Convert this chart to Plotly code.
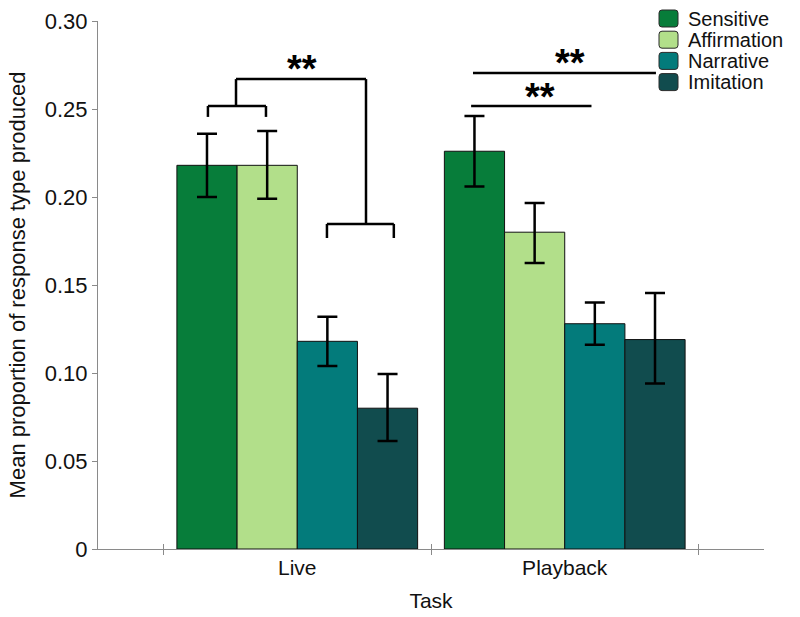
import plotly.graph_objects as go

tasks = ["Live", "Playback"]
task_pos = [0, 1]
series = ["Sensitive", "Affirmation", "Narrative", "Imitation"]
colors = ["#077d3a", "#b2df8a", "#037b7b", "#114c4e"]

sensitive = [0.218, 0.226]
affirmation = [0.218, 0.180]
narrative = [0.118, 0.128]
imitation = [0.080, 0.119]

sensitive_err_up = [0.018, 0.020]
sensitive_err_dn = [0.018, 0.020]
affirmation_err_up = [0.0195, 0.0166]
affirmation_err_dn = [0.019, 0.0175]
narrative_err_up = [0.014, 0.012]
narrative_err_dn = [0.014, 0.012]
imitation_err_up = [0.0194, 0.0265]
imitation_err_dn = [0.0186, 0.025]

values = [sensitive, affirmation, narrative, imitation]
err_up = [sensitive_err_up, affirmation_err_up, narrative_err_up, imitation_err_up]
err_dn = [sensitive_err_dn, affirmation_err_dn, narrative_err_dn, imitation_err_dn]

y_ticks = [0, 0.05, 0.10, 0.15, 0.20, 0.25, 0.30]
y_ticktext = ["0", "0.05", "0.10", "0.15", "0.20", "0.25", "0.30"]

FONT = "Liberation Sans, Arial, Helvetica, sans-serif"

fig = go.Figure()
for name, vals, up, dn, col in zip(series, values, err_up, err_dn, colors):
    fig.add_trace(go.Bar(
        x=task_pos, y=vals, name=name,
        marker=dict(color=col, line=dict(color="#111111", width=1)),
        error_y=dict(type="data", array=up, arrayminus=dn, symmetric=False,
                     color="black", thickness=2.5, width=10),
        showlegend=False,
    ))

# invisible trace on overlay axis for crossing boundary ticks
fig.add_trace(go.Scatter(x=[-0.5, 1.5], y=[0, 0], xaxis="x2", mode="markers",
                         marker=dict(opacity=0), showlegend=False, hoverinfo="skip"))

xr = [-0.745, 1.745]
fig.update_layout(
    width=800, height=617,
    paper_bgcolor="white", plot_bgcolor="white",
    margin=dict(l=98, r=36, t=21, b=68),
    barmode="group", bargap=0.1, bargroupgap=0,
    font=dict(family=FONT, size=21, color="#111111"),
    xaxis=dict(
        range=xr, tickvals=task_pos, ticktext=tasks, ticks="",
        showline=True, linecolor="#8a8a8a", linewidth=1.2,
        showgrid=False, zeroline=False, automargin=False,
        tickfont=dict(size=21),
        minor=dict(tick0=0.5, dtick=1, ticks="outside", ticklen=5,
                   tickcolor="#8a8a8a", tickwidth=1.2, showgrid=False),
        title=dict(text="Task", font=dict(size=21)),
    ),
    xaxis2=dict(
        range=xr, overlaying="x", anchor="y", side="bottom",
        tickvals=[-0.5, 0.5, 1.5], ticks="inside", ticklen=5,
        tickcolor="#8a8a8a", tickwidth=1.2, automargin=False,
        showticklabels=False, showgrid=False, zeroline=False, showline=False,
    ),
    yaxis=dict(
        range=[0, 0.30], tickvals=y_ticks, ticktext=y_ticktext,
        ticks="outside", ticklen=5, tickcolor="#8a8a8a", tickwidth=1.2,
        showline=True, linecolor="#8a8a8a", linewidth=1.2,
        showgrid=False, zeroline=False, automargin=False,
        tickfont=dict(size=22),
        title=dict(text="Mean proportion of response type produced",
                   font=dict(size=22), standoff=12),
    ),
)

# significance brackets (data coordinates)
L = dict(color="black", width=2.5)
segs = [
    # Live: Sensitive+Affirmation vs Narrative+Imitation
    (-0.334, 0.2455, -0.334, 0.2517),
    (-0.334, 0.2517, -0.117, 0.2517),
    (-0.117, 0.2517, -0.117, 0.2455),
    (-0.229, 0.2517, -0.229, 0.267),
    (-0.229, 0.267, 0.257, 0.267),
    (0.257, 0.267, 0.257, 0.1847),
    (0.111, 0.1847, 0.361, 0.1847),
    (0.111, 0.1847, 0.111, 0.1767),
    (0.361, 0.1847, 0.361, 0.1767),
    # Playback lines
    (0.65, 0.2517, 1.10, 0.2517),
    (0.657, 0.2705, 1.341, 0.2705),
]
for x0, y0, x1, y1 in segs:
    fig.add_shape(type="line", xref="x", yref="y", x0=x0, y0=y0, x1=x1, y1=y1, line=L)

for sx, sy in [(0.018, 0.2727), (0.907, 0.2568), (1.02, 0.2761)]:
    fig.add_annotation(x=sx, y=sy, xref="x", yref="y", text="<b>**</b>", showarrow=False,
                       font=dict(size=38, color="black", family=FONT),
                       xanchor="center", yanchor="middle")

# manual legend
plot_l, plot_r, plot_t, plot_b = 98, 764, 21, 549
def px_x(p):
    return (p - plot_l) / (plot_r - plot_l)
def px_y(p):
    return (plot_b - p) / (plot_b - plot_t)

row_centers = [18.5, 39.7, 60.9, 82.1]
for name, col, cy in zip(series, colors, row_centers):
    x0, x1 = px_x(659), px_x(678)
    y0, y1 = px_y(cy + 8.5), px_y(cy - 8.5)
    rx = 3 / (plot_r - plot_l)
    ry = 3 / (plot_b - plot_t)
    path = (f"M{x0+rx},{y0} L{x1-rx},{y0} Q{x1},{y0} {x1},{y0+ry} "
            f"L{x1},{y1-ry} Q{x1},{y1} {x1-rx},{y1} L{x0+rx},{y1} "
            f"Q{x0},{y1} {x0},{y1-ry} L{x0},{y0+ry} Q{x0},{y0} {x0+rx},{y0} Z")
    fig.add_shape(type="path", xref="paper", yref="paper", path=path,
                  fillcolor=col, line=dict(color="#2a2a2a", width=1))
    fig.add_annotation(x=px_x(686), y=px_y(cy), xref="paper", yref="paper",
                       text=name, showarrow=False, xanchor="left", yanchor="middle",
                       font=dict(size=20, color="#111111", family=FONT))

fig.write_html("out.html", config={"displayModeBar": False},
               post_script="document.body.style.margin='0';")
